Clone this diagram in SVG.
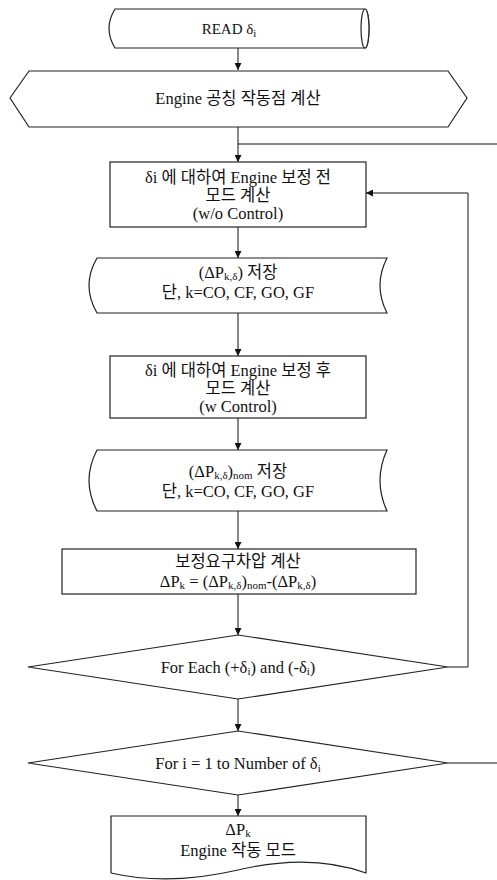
<svg xmlns="http://www.w3.org/2000/svg" width="497" height="880" viewBox="0 0 497 880">
<defs>
<style>
.s{fill:#fff;stroke:#222;stroke-width:1.2}
.c{fill:none;stroke:#111;stroke-width:1}
text{font-family:"Liberation Serif","Noto Sans CJK KR",serif;font-size:16.5px;fill:#111;text-anchor:middle}
.sub{font-size:11px}
</style>
<marker id="ah" viewBox="0 0 10 10" refX="10" refY="5" markerWidth="7" markerHeight="7" markerUnits="userSpaceOnUse" orient="auto">
<path d="M0,0 L10,5 L0,10 Z" fill="#111"/>
</marker>
</defs>
<rect width="497" height="880" fill="#fff"/>

<g id="connectors">
<line class="c" x1="238" y1="48" x2="238" y2="70" marker-end="url(#ah)"/>
<line class="c" x1="238" y1="127" x2="238" y2="162" marker-end="url(#ah)"/>
<line class="c" x1="238" y1="144" x2="497" y2="144"/>
<line class="c" x1="238" y1="227" x2="238" y2="258" marker-end="url(#ah)"/>
<line class="c" x1="238" y1="313" x2="238" y2="356" marker-end="url(#ah)"/>
<line class="c" x1="238" y1="418" x2="238" y2="450" marker-end="url(#ah)"/>
<line class="c" x1="238" y1="511" x2="238" y2="549" marker-end="url(#ah)"/>
<line class="c" x1="238" y1="594" x2="238" y2="635" marker-end="url(#ah)"/>
<line class="c" x1="238" y1="699" x2="238" y2="731" marker-end="url(#ah)"/>
<line class="c" x1="238" y1="795" x2="238" y2="816" marker-end="url(#ah)"/>
<polyline class="c" points="448,667 468,667 468,193 366,193" marker-end="url(#ah)"/>
<line class="c" x1="448" y1="763" x2="497" y2="763"/>
</g>

<g id="read">
<path class="s" d="M115,9 H365 A4,19.5 0 0 1 365,48 H115 Q103,28.5 115,9 Z"/>
<ellipse class="s" cx="365" cy="28.5" rx="4" ry="19.5" fill="none"/>
<text x="229" y="34" style="font-size:15px">READ δ<tspan class="sub" dy="3">i</tspan></text>
</g>

<g id="nominal">
<polygon class="s" points="10,98 29,71 448,71 467,98 448,127 29,127"/>
<text x="238" y="104">Engine 공칭 작동점 계산</text>
</g>

<g id="pre-mode">
<rect class="s" x="110" y="162" width="256" height="65"/>
<text x="238" y="183">δi 에 대하여 Engine 보정 전</text>
<text x="238" y="201">모드 계산</text>
<text x="238" y="219">(w/o Control)</text>
</g>

<g id="store1">
<path class="s" d="M97,258 H387 Q373,285.5 387,313 H97 Q81,285.5 97,258 Z"/>
<text x="238" y="278">(ΔP<tspan class="sub" dy="1.5">k,δ</tspan><tspan dy="-1.5">) 저장</tspan></text>
<text x="238" y="298">단, k=CO, CF, GO, GF</text>
</g>

<g id="post-mode">
<rect class="s" x="110" y="356" width="256" height="62"/>
<text x="238" y="376">δi 에 대하여 Engine 보정 후</text>
<text x="238" y="394">모드 계산</text>
<text x="238" y="412">(w Control)</text>
</g>

<g id="store2">
<path class="s" d="M97,450 H387 Q373,480.5 387,511 H97 Q81,480.5 97,450 Z"/>
<text x="238" y="477">(ΔP<tspan class="sub" dy="1.5">k,δ</tspan><tspan dy="-1.5">)</tspan><tspan class="sub" dy="1.5">nom</tspan><tspan dy="-1.5"> 저장</tspan></text>
<text x="238" y="497">단, k=CO, CF, GO, GF</text>
</g>

<g id="required">
<rect class="s" x="62" y="549" width="354" height="45"/>
<text x="238" y="567">보정요구차압 계산</text>
<text x="238" y="587">ΔP<tspan class="sub" dy="2">k</tspan><tspan dy="-2"> = (ΔP</tspan><tspan class="sub" dy="2">k,δ</tspan><tspan dy="-2">)</tspan><tspan class="sub" dy="2">nom</tspan><tspan dy="-2">-(ΔP</tspan><tspan class="sub" dy="2">k,δ</tspan><tspan dy="-2">)</tspan></text>
</g>

<g id="each">
<polygon class="s" points="28,667 238,635 448,667 238,699"/>
<text x="238" y="673">For Each (+δ<tspan class="sub" dy="2">i</tspan><tspan dy="-2">) and (-δ</tspan><tspan class="sub" dy="2">i</tspan><tspan dy="-2">)</tspan></text>
</g>

<g id="loop-i">
<polygon class="s" points="28,763 238,731 448,763 238,795"/>
<text x="238" y="769">For i = 1 to Number of δ<tspan class="sub" dy="3">i</tspan></text>
</g>

<g id="output">
<path class="s" d="M111,816 H366 V873 C325,858 280,860 238,870 C195,880 150,882 111,873 Z"/>
<text x="238" y="835">ΔP<tspan class="sub" dy="2">k</tspan></text>
<text x="238" y="856">Engine 작동 모드</text>
</g>
</svg>
